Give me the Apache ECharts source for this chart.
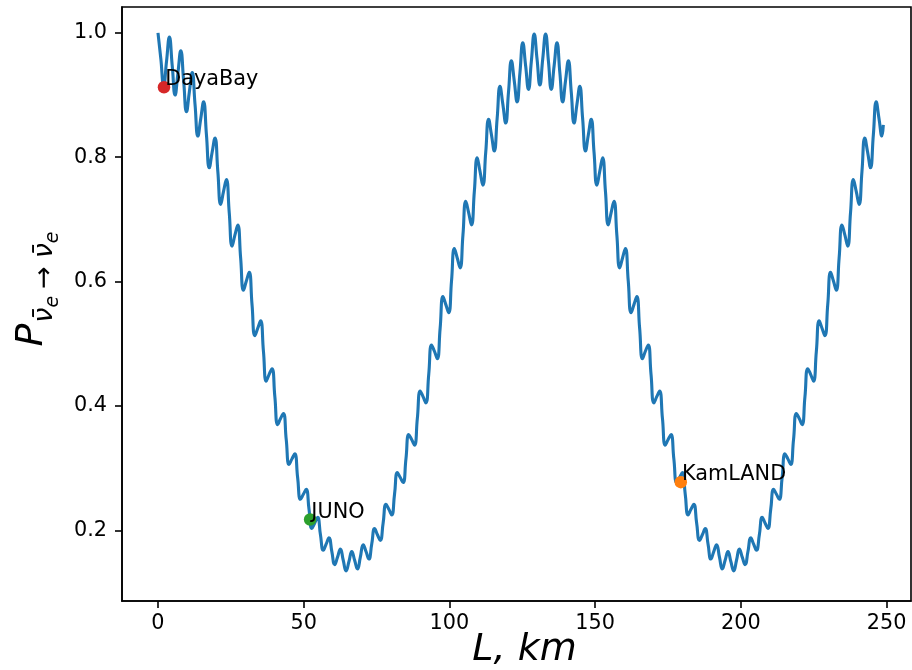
<!DOCTYPE html>
<html><head><meta charset="utf-8">
<script src="https://cdn.jsdelivr.net/npm/echarts@6/dist/echarts.min.js"></script>
<style>html,body{margin:0;padding:0;background:#fff}#c{width:912px;height:670px}</style>
</head><body><div id="c"></div>
<script>
const L_km = [
0,0.98,1.96,2.93,3.91,4.89,5.87,6.85,7.82,8.80,
9.78,10.76,11.74,12.71,13.69,14.67,15.65,16.63,17.60,18.58,
19.56,20.54,21.52,22.49,23.47,24.45,25.43,26.41,27.38,28.36,
29.34,30.32,31.30,32.27,33.25,34.23,35.21,36.19,37.16,38.14,
39.12,40.10,41.08,42.05,43.03,44.01,44.99,45.97,46.94,47.92,
48.90,49.88,50.86,51.83,52.81,53.79,54.77,55.75,56.72,57.70,
58.68,59.66,60.64,61.61,62.59,63.57,64.55,65.53,66.50,67.48,
68.46,69.44,70.42,71.39,72.37,73.35,74.33,75.31,76.28,77.26,
78.24,79.22,80.20,81.17,82.15,83.13,84.11,85.09,86.06,87.04,
88.02,89.00,89.98,90.95,91.93,92.91,93.89,94.87,95.84,96.82,
97.80,98.78,99.76,100.73,101.71,102.69,103.67,104.65,105.62,106.60,
107.58,108.56,109.54,110.51,111.49,112.47,113.45,114.43,115.40,116.38,
117.36,118.34,119.32,120.29,121.27,122.25,123.23,124.21,125.18,126.16,
127.14,128.12,129.10,130.07,131.05,132.03,133.01,133.99,134.96,135.94,
136.92,137.90,138.88,139.85,140.83,141.81,142.79,143.77,144.74,145.72,
146.70,147.68,148.66,149.63,150.61,151.59,152.57,153.55,154.52,155.50,
156.48,157.46,158.44,159.41,160.39,161.37,162.35,163.33,164.30,165.28,
166.26,167.24,168.22,169.19,170.17,171.15,172.13,173.11,174.08,175.06,
176.04,177.02,178.00,178.97,179.95,180.93,181.91,182.89,183.86,184.84,
185.82,186.80,187.78,188.75,189.73,190.71,191.69,192.67,193.64,194.62,
195.60,196.58,197.56,198.53,199.51,200.49,201.47,202.45,203.42,204.40,
205.38,206.36,207.34,208.31,209.29,210.27,211.25,212.23,213.20,214.18,
215.16,216.14,217.12,218.09,219.07,220.05,221.03,222.01,222.98,223.96,
224.94,225.92,226.90,227.87,228.85,229.83,230.81,231.79,232.76,233.74,
234.72,235.70,236.68,237.65,238.63,239.61,240.59,241.57,242.54,243.52,
244.50,245.48,246.46,247.43,248.41,248.90
];
// survival probability
const P_ee = [
1.000,0.958,0.914,0.954,0.993,0.947,0.900,0.936,0.971,0.923,
0.873,0.905,0.936,0.885,0.834,0.862,0.889,0.836,0.783,0.808,
0.831,0.777,0.724,0.745,0.764,0.711,0.657,0.675,0.691,0.638,
0.586,0.601,0.615,0.563,0.513,0.525,0.537,0.488,0.440,0.451,
0.460,0.415,0.370,0.380,0.388,0.346,0.306,0.315,0.323,0.285,
0.250,0.258,0.266,0.234,0.203,0.212,0.221,0.193,0.168,0.178,
0.188,0.166,0.145,0.157,0.170,0.152,0.135,0.150,0.166,0.152,
0.138,0.157,0.177,0.166,0.154,0.178,0.203,0.193,0.184,0.212,
0.242,0.234,0.225,0.258,0.293,0.285,0.277,0.315,0.354,0.346,
0.337,0.380,0.424,0.415,0.405,0.451,0.498,0.488,0.476,0.525,
0.576,0.563,0.550,0.601,0.653,0.638,0.622,0.675,0.729,0.711,
0.691,0.745,0.799,0.777,0.755,0.808,0.861,0.836,0.810,0.862,
0.914,0.885,0.855,0.905,0.955,0.923,0.889,0.936,0.984,0.947,
0.909,0.954,0.998,0.958,0.916,0.958,0.998,0.954,0.909,0.947,
0.984,0.936,0.889,0.923,0.955,0.905,0.855,0.885,0.914,0.862,
0.810,0.836,0.861,0.808,0.755,0.777,0.799,0.745,0.691,0.711,
0.729,0.675,0.622,0.638,0.653,0.601,0.550,0.563,0.576,0.525,
0.476,0.488,0.498,0.451,0.405,0.415,0.424,0.380,0.337,0.346,
0.354,0.315,0.277,0.285,0.293,0.258,0.225,0.234,0.242,0.212,
0.184,0.193,0.203,0.178,0.154,0.166,0.177,0.157,0.138,0.152,
0.166,0.150,0.135,0.152,0.170,0.157,0.145,0.166,0.188,0.178,
0.168,0.193,0.221,0.212,0.203,0.234,0.266,0.258,0.250,0.285,
0.323,0.315,0.306,0.346,0.388,0.380,0.370,0.415,0.460,0.451,
0.440,0.488,0.537,0.525,0.513,0.563,0.615,0.601,0.586,0.638,
0.691,0.675,0.657,0.711,0.764,0.745,0.724,0.777,0.831,0.808,
0.783,0.836,0.889,0.862,0.834,0.852
];
// experiments
const siteNames = ['DayaBay', 'JUNO', 'KamLAND'];
const siteL = [2.06, 52.2, 179.4];
const siteP = [0.9125, 0.2175, 0.2775];
// tick labels
const xTicks = [0, 50, 100, 150, 200, 250];
const yTicks = [0.2, 0.4, 0.6, 0.8, 1.0];

const siteColors = ['#d62728', '#2ca02c', '#ff7f0e'];
const FONT = 'DejaVu Sans';

const chart = echarts.init(document.getElementById('c'), null, {renderer: 'canvas'});
chart.setOption({
  animation: false,
  backgroundColor: '#fff',
  grid: {left: 122, top: 7, width: 789, height: 594, show: true, borderColor: '#000', borderWidth: 1.6,
         containLabel: false, outerBoundsMode: 'none'},
  xAxis: {
    type: 'value', min: -12.35, max: 258.4,
    splitLine: {show: false},
    axisLine: {show: true, onZero: false, lineStyle: {color: '#000', width: 1.6}},
    axisTick: {show: true, length: 7, lineStyle: {color: '#000', width: 1.6}, customValues: xTicks},
    axisLabel: {customValues: xTicks, color: '#000', fontFamily: FONT, fontSize: 20.8, margin: 12,
                formatter: v => String(v)},
    name: 'L, km', nameLocation: 'middle', nameGap: 30, nameMoveOverlap: false,
    nameTextStyle: {fontFamily: FONT, fontStyle: 'italic', fontSize: 38, color: '#000', lineHeight: 38,
                    padding: [0, 0, 0, 16]}
  },
  yAxis: {
    type: 'value', min: 0.0865, max: 1.0415,
    splitLine: {show: false},
    axisLine: {show: true, onZero: false, lineStyle: {color: '#000', width: 1.6}},
    axisTick: {show: true, length: 7, lineStyle: {color: '#000', width: 1.6}, customValues: yTicks},
    axisLabel: {customValues: yTicks, color: '#000', fontFamily: FONT, fontSize: 20.8, margin: 15,
                formatter: v => v.toFixed(1)},
    name: '{p|P}{s|ν̄}{e|e}{a|→}{s|ν̄}{e|e}',
    nameLocation: 'middle', nameGap: 30, nameRotate: 90,
    nameTextStyle: {
      color: '#000', padding: [0, 0, 0, 30],
      rich: {
        p: {fontFamily: FONT, fontStyle: 'italic', fontSize: 38, color: '#000'},
        s: {fontFamily: FONT, fontStyle: 'italic', fontSize: 27, color: '#000', padding: [25, 0, 0, 1]},
        a: {fontFamily: FONT, fontSize: 27, color: '#000', padding: [25, 7, 0, 7]},
        e: {fontFamily: FONT, fontStyle: 'italic', fontSize: 19, color: '#000', padding: [43, 0, 0, 0]}
      }
    }
  },
  series: [
    {
      type: 'line', name: 'P', data: L_km.map((x, i) => [x, P_ee[i]]),
      showSymbol: false, smooth: 0.5, z: 2,
      lineStyle: {color: '#1f77b4', width: 3.1}
    },
    {
      type: 'scatter', z: 3, symbolSize: 12.5,
      data: siteNames.map((n, i) => ({name: n, value: [siteL[i], siteP[i]], itemStyle: {color: siteColors[i], opacity: 1}})),
      label: {show: true, formatter: '{b}', position: [7.5, -1], align: 'left', verticalAlign: 'middle',
              fontFamily: FONT, fontSize: 20.8, color: '#000'}
    }
  ]
});
</script></body></html>
